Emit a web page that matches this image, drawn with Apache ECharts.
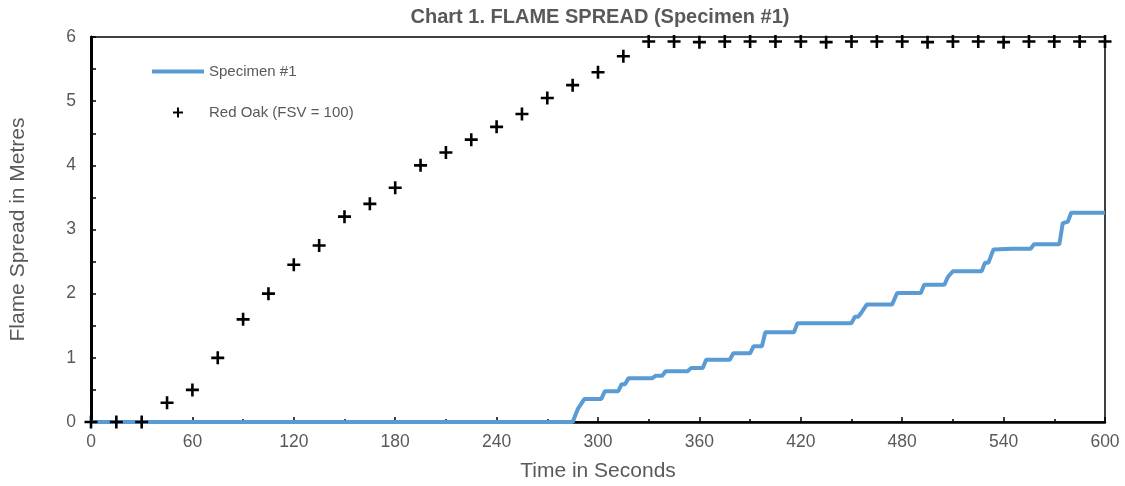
<!DOCTYPE html>
<html>
<head>
<meta charset="utf-8">
<title>Chart 1. FLAME SPREAD (Specimen #1)</title>
<script src="https://cdn.jsdelivr.net/npm/echarts@6/dist/echarts.min.js"></script>
<style>
  html, body { margin: 0; padding: 0; background: #fff; }
  #main { width: 1125px; height: 486px; }
</style>
</head>
<body>
<div id="main"></div>
<script>
// Red Oak reference points (every 15 s)
var oakTime = [0, 15, 30, 45, 60, 75, 90, 105, 120, 135, 150, 165, 180, 195, 210, 225, 240, 255, 270, 285,
  300, 315, 330, 345, 360, 375, 390, 405, 420, 435, 450, 465, 480, 495, 510, 525, 540, 555, 570, 585, 600];
var oakSpread = [0, 0, 0, 0.3, 0.5, 1.0, 1.6, 2.0, 2.45, 2.75, 3.2, 3.4, 3.65, 4.0, 4.2, 4.4, 4.6, 4.8, 5.05, 5.25,
  5.45, 5.7, 5.93, 5.93, 5.92, 5.93, 5.93, 5.93, 5.93, 5.92, 5.93, 5.93, 5.93, 5.92, 5.93, 5.93, 5.92, 5.93, 5.93, 5.93, 5.93];

// Specimen #1 flame front trace
var specTime = [0, 285, 288, 292, 302, 304, 312, 314, 316, 318, 332, 334, 338, 340, 353, 355, 362, 364, 378, 380,
  390, 392, 397, 399, 416, 418, 450, 452, 454, 456, 457, 459, 474, 477, 491, 493, 505, 507, 508, 510,
  527, 529, 531, 534, 545, 556, 558, 573, 575, 578, 580, 600];
var specSpread = [0, 0, 0.2, 0.36, 0.36, 0.48, 0.48, 0.59, 0.59, 0.68, 0.68, 0.72, 0.72, 0.79, 0.79, 0.84, 0.84, 0.97, 0.97, 1.07,
  1.07, 1.18, 1.18, 1.40, 1.40, 1.54, 1.54, 1.64, 1.64, 1.71, 1.71, 1.83, 1.83, 2.01, 2.01, 2.14, 2.14, 2.26, 2.26, 2.35,
  2.35, 2.48, 2.48, 2.69, 2.70, 2.70, 2.77, 2.77, 3.10, 3.12, 3.26, 3.26];

var grey = '#595959'
var font = 'Liberation Sans, Arial, sans-serif'
var plus = 'path://M4,0H6V4H10V6H6V10H4V6H0V4H4Z'
// same cross with empty margin so the legend one comes out smaller
var plusSmall = 'path://M-2,-2M4,0H6V4H10V6H6V10H4V6H0V4H4ZM12,12'

var chart = echarts.init(document.getElementById('main'))
chart.setOption({
  animation: false,
  textStyle: { fontFamily: font },
  title: {
    text: 'Chart 1. FLAME SPREAD (Specimen #1)',
    left: 595,
    textAlign: 'center',
    top: 2,
    textStyle: { color: grey, fontSize: 20, fontWeight: 'bold', fontFamily: font }
  },
  grid: {
    left: 91,
    right: 20,
    top: 37,
    bottom: 64,
    outerBoundsMode: 'none',
    show: true,
    borderColor: '#000',
    borderWidth: 1.5
  },
  legend: {
    orient: 'vertical',
    left: 145,
    top: 59,
    itemWidth: 52,
    itemHeight: 14,
    itemGap: 26,
    textStyle: { color: grey, fontSize: 15, fontFamily: font },
    data: [
      { name: 'Specimen #1', itemStyle: { opacity: 0 }, lineStyle: { width: 4, color: '#5b9bd5' } },
      { name: 'Red Oak (FSV = 100)', icon: plusSmall, itemStyle: { color: '#000' } }
    ]
  },
  xAxis: {
    type: 'value',
    min: 0,
    max: 600,
    interval: 60,
    name: 'Time in Seconds',
    nameLocation: 'middle',
    nameGap: 39,
    nameTextStyle: { color: grey, fontSize: 21 },
    axisLine: { lineStyle: { color: '#000', width: 2.5 } },
    axisTick: { inside: true, length: 5, lineStyle: { color: '#000', width: 1.5 } },
    minorTick: { show: true, splitNumber: 2, length: 3, lineStyle: { color: '#000', width: 1.5 } },
    axisLabel: { color: grey, fontSize: 17.5, margin: 11 },
    splitLine: { show: false }
  },
  yAxis: {
    type: 'value',
    min: 0,
    max: 6,
    interval: 1,
    name: 'Flame Spread in Metres',
    nameLocation: 'middle',
    nameGap: 62,
    nameTextStyle: { color: grey, fontSize: 21 },
    axisLine: { show: true, lineStyle: { color: '#000', width: 3 } },
    axisTick: { show: true, inside: true, length: 5, lineStyle: { color: '#000', width: 1.5 } },
    minorTick: { show: true, splitNumber: 2, length: 5, lineStyle: { color: '#000', width: 1.5 } },
    axisLabel: { color: grey, fontSize: 17.5, margin: 15 },
    splitLine: { show: false }
  },
  series: [
    {
      name: 'Specimen #1',
      type: 'line',
      showSymbol: false,
      lineStyle: { color: '#5b9bd5', width: 4 },
      itemStyle: { color: '#5b9bd5' },
      data: specTime.map(function (t, i) { return [t, specSpread[i]] }),
      z: 3
    },
    {
      name: 'Red Oak (FSV = 100)',
      type: 'scatter',
      symbol: plus,
      symbolSize: 13,
      itemStyle: { color: '#000', opacity: 1 },
      data: oakTime.map(function (t, i) { return [t, oakSpread[i]] }),
      clip: false,
      z: 4
    }
  ]
})
</script>
</body>
</html>
